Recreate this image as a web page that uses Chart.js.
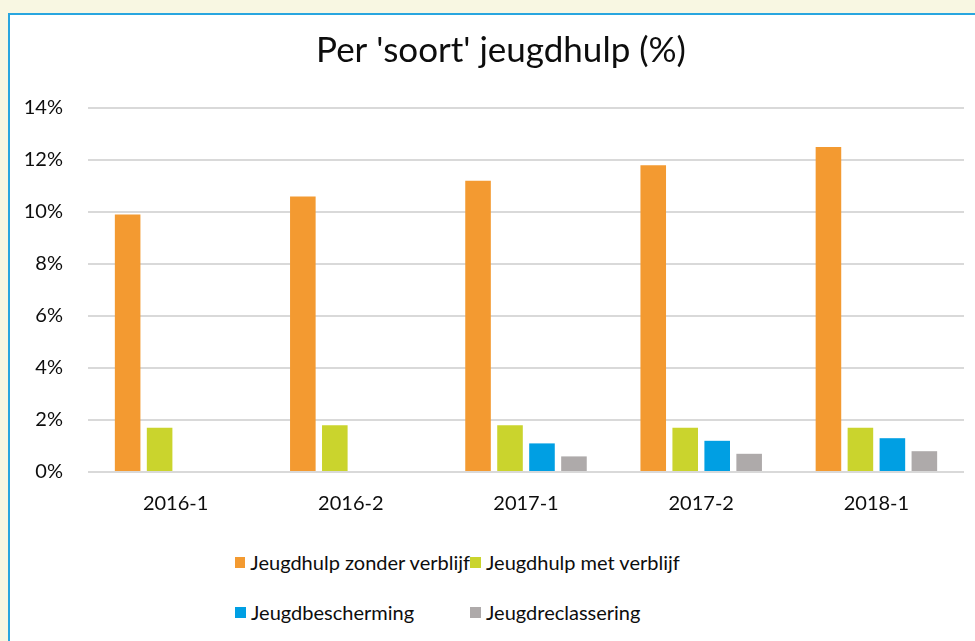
<!DOCTYPE html>
<html>
<head>
<meta charset="utf-8">
<script src="https://cdn.jsdelivr.net/npm/chart.js@4"></script>
<style>
  html, body { margin: 0; padding: 0; }
  body {
    width: 975px; height: 641px; overflow: hidden;
    background: #f8f7e2; position: relative;
    font-family: Lato, "Open Sans", sans-serif;
  }
  #panel {
    position: absolute; left: 8px; top: 13px;
    width: 1000px; height: 700px;
    background: #ffffff;
    border-left: 2px solid #29a6df; border-top: 2px solid #29a6df;
  }
  #chartBox { position: absolute; left: 10px; top: 15px; }
  #legend {
    position: absolute; left: 235px; top: 550px;
    display: grid; grid-template-columns: 235px 250px; row-gap: 26px;
    font-size: 20px; color: #0d0d0d;
  }
  .item { display: flex; align-items: center; height: 24px; white-space: nowrap; }
  .box { width: 11px; height: 11px; margin-right: 5px; }
</style>
</head>
<body>
<div id="panel"></div>
<div id="chartBox"><canvas id="soortChart" width="965" height="515"></canvas></div>
<div id="legend"></div>

<script>
// ===============================
// DATA
// ===============================

const periods = ["2016-1", "2016-2", "2017-1", "2017-2", "2018-1"];

const zonderVerblijf = [9.9, 10.6, 11.2, 11.8, 12.5];
const metVerblijf = [1.7, 1.8, 1.8, 1.7, 1.7];
const bescherming = [null, null, 1.1, 1.2, 1.3];
const reclassering = [null, null, 0.6, 0.7, 0.8];

const seriesNames = [
  "Jeugdhulp zonder verblijf",
  "Jeugdhulp met verblijf",
  "Jeugdbescherming",
  "Jeugdreclassering"
];
const seriesColors = ["#f39a31", "#cad42d", "#009fe3", "#aeaaaa"];

// ===============================
// CHART
// ===============================

const seriesData = [zonderVerblijf, metVerblijf, bescherming, reclassering];

// title sits a bit right of the canvas centre in the original
const shiftTitle = {
  id: "shiftTitle",
  afterLayout(chart) {
    if (chart.titleBlock) {
      chart.titleBlock.left += 14;
      chart.titleBlock.right += 14;
    }
  }
};

const ctx = document.getElementById("soortChart");

const soortChart = new Chart(ctx, {
  type: "bar",
  data: {
    labels: periods,
    datasets: seriesNames.map((name, i) => ({
      label: name,
      data: seriesData[i],
      backgroundColor: seriesColors[i],
      borderWidth: 0,
      categoryPercentage: 0.73,
      barPercentage: 0.8
    }))
  },
  options: {
    responsive: false,
    devicePixelRatio: 1,
    animation: false,
    layout: { padding: { left: 0, right: 11, top: 3, bottom: 14 } },
    plugins: {
      legend: { display: false },
      tooltip: { enabled: false },
      title: {
        display: true,
        text: "Per 'soort' jeugdhulp (%)",
        color: "#0d0d0d",
        font: { family: "Lato", size: 35, weight: "normal" },
        padding: { top: 12, bottom: 36 }
      }
    },
    scales: {
      x: {
        grid: { display: false },
        border: { display: false },
        ticks: {
          color: "#0d0d0d",
          padding: 12,
          font: { family: "Lato", size: 20 }
        },
        afterFit: scale => { scale.height = 44; }
      },
      y: {
        min: 0,
        max: 14,
        border: { display: false },
        grid: { color: "#d9d9d9", lineWidth: 2, drawTicks: false },
        ticks: {
          stepSize: 2,
          color: "#0d0d0d",
          padding: 25,
          font: { family: "Lato", size: 20 },
          callback: v => v + "%"
        },
        afterFit: scale => { scale.width = 78; }
      }
    }
  },
  plugins: [shiftTitle]
});

// ===============================
// LEGEND (two aligned columns)
// ===============================

const legendDiv = document.getElementById("legend");
legendDiv.innerHTML = soortChart.data.datasets.map(ds => `
  <div class="item"><span class="box" style="background:${ds.backgroundColor}"></span>${ds.label}</div>
`).join("");
</script>
</body>
</html>
